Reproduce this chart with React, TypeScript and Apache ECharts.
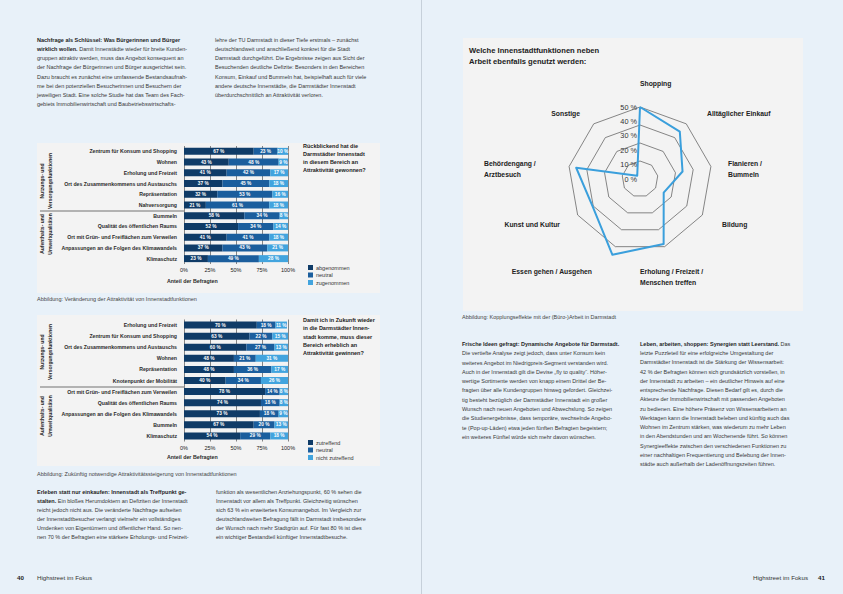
import React, { useEffect, useRef } from 'react';
import * as echarts from 'echarts';

const FONT = "'Liberation Sans', Arial, sans-serif";

// ---------- Chart 1: Rückblickend ----------
const cats1 = [
  'Zentrum für Konsum und Shopping',
  'Wohnen',
  'Erholung und Freizeit',
  'Ort des Zusammenkommens und Austauschs',
  'Repräsentation',
  'Nahversorgung',
  'Bummeln',
  'Qualität des öffentlichen Raums',
  'Ort mit Grün- und Freiflächen zum Verweilen',
  'Anpassungen an die Folgen des Klimawandels',
  'Klimaschutz',
];
const abgenommen = [67, 43, 41, 37, 32, 21, 58, 52, 41, 37, 23];
const neutral1 = [23, 48, 42, 45, 53, 61, 34, 34, 41, 43, 49];
const zugenommen = [10, 9, 17, 18, 16, 18, 8, 14, 18, 21, 28];

// ---------- Chart 2: Zukunft ----------
const cats2 = [
  'Erholung und Freizeit',
  'Zentrum für Konsum und Shopping',
  'Ort des Zusammenkommens und Austauschs',
  'Wohnen',
  'Repräsentation',
  'Knotenpunkt der Mobilität',
  'Ort mit Grün- und Freiflächen zum Verweilen',
  'Qualität des öffentlichen Raums',
  'Anpassungen an die Folgen des Klimawandels',
  'Bummeln',
  'Klimaschutz',
];
const zutreffend = [70, 63, 60, 48, 48, 40, 78, 74, 73, 67, 54];
const neutral2 = [18, 22, 27, 21, 36, 34, 14, 18, 18, 20, 29];
const nichtZutreffend = [11, 15, 13, 31, 17, 26, 8, 8, 9, 13, 18];

// ---------- Radar (clockwise from top) ----------
const radarNames = [
  'Shopping',
  'Alltäglicher Einkauf',
  'Flanieren /\nBummeln',
  'Bildung',
  'Erholung / Freizeit /\nMenschen treffen',
  'Essen gehen / Ausgehen',
  'Kunst und Kultur',
  'Behördengang /\nArztbesuch',
  'Sonstige',
];
const radarValues = [50, 43, 30, 19, 48, 56, 38, 45, 3];
const radarTicks = [0, 10, 20, 30, 40, 50];

// label layout for radar names (same order as radarNames)
const radarNameLayout = [
  { x: 640, y: 83, a: 'left' },
  { x: 707, y: 113, a: 'left' },
  { x: 728, y: 168.5, a: 'left' },
  { x: 722, y: 224, a: 'left' },
  { x: 640, y: 276.5, a: 'left' },
  { x: 592, y: 271, a: 'right' },
  { x: 560, y: 224, a: 'right' },
  { x: 484, y: 168.5, a: 'left' },
  { x: 580, y: 113, a: 'right' },
];

const C_DARK = '#0f3b67';
const C_MID = '#1b5e9d';
const C_LIGHT = '#42a4de';

// ---------- body texts ----------
const p1 = [
  '{b|Nachfrage als Schlüssel: Was Bürgerinnen und Bürger}',
  '{b|wirklich wollen.} Damit Innenstädte wieder für breite Kunden-',
  'gruppen attraktiv werden, muss das Angebot konsequent an',
  'der Nachfrage der Bürgerinnen und Bürger ausgerichtet sein.',
  'Dazu braucht es zunächst eine umfassende Bestandsaufnah-',
  'me bei den potenziellen Besucherinnen und Besuchern der',
  'jeweiligen Stadt. Eine solche Studie hat das Team des Fach-',
  'gebiets Immobilienwirtschaft und Baubetriebswirtschafts-',
];
const p2 = [
  'lehre der TU Darmstadt in dieser Tiefe erstmals – zunächst',
  'deutschlandweit und anschließend konkret für die Stadt',
  'Darmstadt durchgeführt. Die Ergebnisse zeigen aus Sicht der',
  'Besuchenden deutliche Defizite: Besonders in den Bereichen',
  'Konsum, Einkauf und Bummeln hat, beispielhaft auch für viele',
  'andere deutsche Innenstädte, die Darmstädter Innenstadt',
  'überdurchschnittlich an Attraktivität verloren.',
];
const p3 = [
  '{b|Erleben statt nur einkaufen: Innenstadt als Treffpunkt ge-}',
  '{b|stalten.} Ein bloßes Herumdoktern an Defiziten der Innenstadt',
  'reicht jedoch nicht aus. Die veränderte Nachfrage aufseiten',
  'der Innenstadtbesucher verlangt vielmehr ein vollständiges',
  'Umdenken von Eigentümern und öffentlicher Hand. So nen-',
  'nen 70 % der Befragten eine stärkere Erholungs- und Freizeit-',
];
const p4 = [
  'funktion als wesentlichen Anziehungspunkt, 60 % sehen die',
  'Innenstadt vor allem als Treffpunkt. Gleichzeitig wünschen',
  'sich 63 % ein erweitertes Konsumangebot. Im Vergleich zur',
  'deutschlandweiten Befragung fällt in Darmstadt insbesondere',
  'der Wunsch nach mehr Stadtgrün auf. Für fast 80 % ist dies',
  'ein wichtiger Bestandteil künftiger Innenstadtbesuche.',
];
const p5 = [
  '{b|Frische Ideen gefragt: Dynamische Angebote für Darmstadt.}',
  'Die vertiefte Analyse zeigt jedoch, dass unter Konsum kein',
  'weiteres Angebot im Niedrigpreis-Segment verstanden wird.',
  'Auch in der Innenstadt gilt die Devise „fly to quality“. Höher-',
  'wertige Sortimente werden von knapp einem Drittel der Be-',
  'fragten über alle Kundengruppen hinweg gefordert. Gleichzei-',
  'tig besteht bezüglich der Darmstädter Innenstadt ein großer',
  'Wunsch nach neuen Angeboten und Abwechslung. So zeigen',
  'die Studienergebnisse, dass temporäre, wechselnde Angebo-',
  'te (Pop-up-Läden) etwa jeden fünften Befragten begeistern;',
  'ein weiteres Fünftel würde sich mehr davon wünschen.',
];
const p6 = [
  '{b|Leben, arbeiten, shoppen: Synergien statt Leerstand.} Das',
  'letzte Puzzleteil für eine erfolgreiche Umgestaltung der',
  'Darmstädter Innenstadt ist die Stärkung der Wissensarbeit:',
  '42 % der Befragten können sich grundsätzlich vorstellen, in',
  'der Innenstadt zu arbeiten – ein deutlicher Hinweis auf eine',
  'entsprechende Nachfrage. Diesen Bedarf gilt es, durch die',
  'Akteure der Immobilienwirtschaft mit passenden Angeboten',
  'zu bedienen. Eine höhere Präsenz von Wissensarbeitern an',
  'Werktagen kann die Innenstadt beleben und künftig auch das',
  'Wohnen im Zentrum stärken, was wiederum zu mehr Leben',
  'in den Abendstunden und am Wochenende führt. So können',
  'Synergieeffekte zwischen den verschiedenen Funktionen zu',
  'einer nachhaltigen Frequentierung und Belebung der Innen-',
  'städte auch außerhalb der Ladenöffnungszeiten führen.',
];

function txt(x: number, y: number, text: string, o: any = {}) {
  const align = o.align || 'left';
  const va = o.va || 'middle';
  return {
    type: 'text',
    x,
    y,
    rotation: o.rotation || 0,
    z: 20,
    style: {
      text,
      fill: o.fill || '#2a2a2a',
      fontSize: o.size || 5.5,
      fontWeight: o.weight || 'normal',
      fontFamily: FONT,
      lineHeight: o.lh,
      textAlign: align,
      align,
      textVerticalAlign: va,
      verticalAlign: va,
    },
  };
}

function para(x: number, yFirst: number, lines: string[], lh: number) {
  return {
    type: 'text',
    x,
    y: yFirst - lh / 2,
    z: 20,
    style: {
      text: lines.join('\n'),
      fill: '#383838',
      fontSize: 5.5,
      fontFamily: FONT,
      lineHeight: lh,
      textAlign: 'left',
      align: 'left',
      textVerticalAlign: 'top',
      verticalAlign: 'top',
      rich: {
        b: { fontWeight: 'bold', fontSize: 5.5, fontFamily: FONT, fill: '#1e1e1e', lineHeight: lh },
      },
    },
  };
}

function rect(x: number, y: number, w: number, h: number, fill: string) {
  return { type: 'rect', z: 0, shape: { x, y, width: w, height: h }, style: { fill } };
}
function line(x1: number, y1: number, x2: number, y2: number, stroke: string, w = 0.8) {
  return { type: 'line', z: 5, shape: { x1, y1, x2, y2 }, style: { stroke, lineWidth: w } };
}

function barSeries(name: string, data: number[], color: string, idx: number, stack: string) {
  return {
    type: 'bar',
    name,
    data,
    stack,
    xAxisIndex: idx,
    yAxisIndex: idx,
    barWidth: 7,
    itemStyle: { color },
    label: {
      show: true,
      position: 'inside',
      formatter: '{c} %',
      color: '#ffffff',
      fontSize: 4.8,
      fontWeight: 'bold',
      fontFamily: FONT,
    },
  };
}

function xAx(idx: number) {
  return {
    type: 'value',
    gridIndex: idx,
    min: 0,
    max: 100,
    interval: 25,
    axisLine: { show: false },
    axisTick: { show: false },
    axisLabel: { formatter: '{value}%', fontSize: 5.5, color: '#222', margin: 3, fontFamily: FONT },
    splitLine: { show: true, lineStyle: { color: '#3a3a3a', width: 0.6 } },
  };
}
function yAx(idx: number, data: string[]) {
  return {
    type: 'category',
    gridIndex: idx,
    data,
    inverse: true,
    axisLine: { show: false },
    axisTick: { show: false },
    axisLabel: { fontSize: 5.2, fontWeight: 'bold', color: '#2b2b2b', margin: 7, fontFamily: FONT },
  };
}

// radar indicators run counter-clockwise in ECharts: reorder from clockwise reading order
const ccwOrder = [0, 8, 7, 6, 5, 4, 3, 2, 1];

// radar scale: rings every 12.5 % up to 50 %, extra (hidden) ring so values above 50 are not clipped
const R50 = 72;
const RADAR_MAX = 62.5;

export default function App() {
  const ref = useRef<HTMLDivElement>(null);
  useEffect(() => {
    const chart = echarts.init(ref.current!, null, { renderer: 'svg' });
    const graphic: any[] = [
      // fold
      line(421.5, 0, 421.5, 594, '#c6d0da', 1),
      // panels
      rect(37, 143, 343, 150, '#f3f3f3'),
      rect(37, 315, 343, 151, '#f3f3f3'),
      rect(463, 38, 340, 273, '#f3f3f3'),
      // separators
      line(40, 211, 184, 211, '#3a3a3a', 0.7),
      line(40, 387, 184, 387, '#3a3a3a', 0.7),
      // group labels
      txt(46, 181, 'Nutzungs- und\nVersorgungsfunktionen', { rotation: Math.PI / 2, align: 'center', size: 5, weight: 'bold', lh: 7.5 }),
      txt(46, 234, 'Aufenthalts- und\nUmweltqualitäten', { rotation: Math.PI / 2, align: 'center', size: 5, weight: 'bold', lh: 7.5 }),
      txt(46, 352, 'Nutzungs- und\nVersorgungsfunktionen', { rotation: Math.PI / 2, align: 'center', size: 5, weight: 'bold', lh: 7.5 }),
      txt(46, 416, 'Aufenthalts- und\nUmweltqualitäten', { rotation: Math.PI / 2, align: 'center', size: 5, weight: 'bold', lh: 7.5 }),
      // axis titles
      txt(167, 281, 'Anteil der Befragten', { size: 5.3, weight: 'bold' }),
      txt(167, 457, 'Anteil der Befragten', { size: 5.3, weight: 'bold' }),
      // questions
      txt(303, 142, 'Rückblickend hat die\nDarmstädter Innenstadt\nin diesem Bereich an\nAttraktivität gewonnen?', { size: 5.5, weight: 'bold', lh: 8.1, va: 'top', fill: '#222' }),
      txt(303, 316, 'Damit ich in Zukunft wieder\nin die Darmstädter Innen-\nstadt komme, muss dieser\nBereich erheblich an\nAttraktivität gewinnen?', { size: 5.5, weight: 'bold', lh: 8.3, va: 'top', fill: '#222' }),
      // captions
      txt(37, 298.5, 'Abbildung: Veränderung der Attraktivität von Innenstadtfunktionen', { size: 5.5, fill: '#444' }),
      txt(37, 473.5, 'Abbildung: Zukünftig notwendige Attraktivitätssteigerung von Innenstadtfunktionen', { size: 5.5, fill: '#444' }),
      txt(462, 317, 'Abbildung: Kopplungseffekte mit der (Büro-)Arbeit in Darmstadt', { size: 5.5, fill: '#444' }),
      // radar title
      txt(469, 44.5, 'Welche Innenstadtfunktionen neben\nArbeit ebenfalls genutzt werden:', { size: 7.6, weight: 'bold', lh: 11, fill: '#222', va: 'top' }),
      // body paragraphs
      para(37, 40, p1, 9.14),
      para(215, 40, p2, 9.14),
      para(37, 492, p3, 9.1),
      para(216, 492, p4, 9.1),
      para(462, 344, p5, 9.3),
      para(640, 344, p6, 9.23),
      // footers
      txt(17, 577, '40', { size: 6.2, weight: 'bold', fill: '#222' }),
      txt(37, 577, 'Highstreet im Fokus', { size: 6.2, fill: '#333' }),
      txt(808, 577, 'Highstreet im Fokus', { size: 6.2, fill: '#333', align: 'right' }),
      txt(818, 577, '41', { size: 6.2, weight: 'bold', fill: '#222' }),
    ];
    radarNames.forEach((n, i) => {
      const l = radarNameLayout[i];
      graphic.push(txt(l.x, l.y, n, { size: 6.8, weight: 'bold', fill: '#222', align: l.a, lh: 11 }));
    });

    const ringColor = '#555555';
    const option: any = {
      animation: false,
      backgroundColor: '#e8f1f9',
      textStyle: { fontFamily: FONT },
      graphic: { elements: graphic },
      grid: [
        { left: 184, top: 146, width: 104, height: 118 },
        { left: 184, top: 319.5, width: 104, height: 122 },
      ],
      xAxis: [xAx(0), xAx(1)],
      yAxis: [yAx(0, cats1), yAx(1, cats2)],
      legend: [
        {
          data: ['abgenommen', 'neutral', 'zugenommen'],
          orient: 'vertical', left: 303, top: 259.5, itemWidth: 5, itemHeight: 5, itemGap: 1.5,
          icon: 'rect', selectedMode: false,
          textStyle: { fontSize: 5.5, color: '#333', padding: [0, 0, 0, -2], fontFamily: FONT },
        },
        {
          data: ['zutreffend', 'neutral', 'nicht zutreffend'],
          orient: 'vertical', left: 303, top: 434.5, itemWidth: 5, itemHeight: 5, itemGap: 1.5,
          icon: 'rect', selectedMode: false,
          textStyle: { fontSize: 5.5, color: '#333', padding: [0, 0, 0, -2], fontFamily: FONT },
        },
      ],
      radar: {
        center: [640, 179],
        radius: (R50 * RADAR_MAX) / 50,
        startAngle: 90,
        splitNumber: 5,
        shape: 'polygon',
        indicator: ccwOrder.map((i) => ({ name: radarNames[i], min: 0, max: RADAR_MAX })),
        axisName: { show: false },
        axisLine: { show: false },
        axisTick: { show: false },
        axisLabel: { show: false },
        splitArea: { show: false },
        splitLine: {
          lineStyle: {
            color: [ringColor, ringColor, ringColor, ringColor, ringColor, 'rgba(0,0,0,0)'],
            width: 0.7,
          },
        },
      },
      polar: { center: [640, 179], radius: R50 },
      angleAxis: { type: 'value', min: 0, max: 360, startAngle: 90, show: false },
      radiusAxis: {
        type: 'value',
        min: radarTicks[0],
        max: radarTicks[radarTicks.length - 1],
        interval: 10,
        z: 10,
        axisLine: { show: false },
        axisTick: { show: false },
        splitLine: { show: false },
        axisLabel: { formatter: '{value} %', fontSize: 7.3, color: '#333', margin: 3, fontFamily: FONT },
      },
      series: [
        barSeries('abgenommen', abgenommen, C_DARK, 0, 's1'),
        barSeries('neutral', neutral1, C_MID, 0, 's1'),
        barSeries('zugenommen', zugenommen, C_LIGHT, 0, 's1'),
        barSeries('zutreffend', zutreffend, C_DARK, 1, 's2'),
        barSeries('neutral', neutral2, C_MID, 1, 's2'),
        barSeries('nicht zutreffend', nichtZutreffend, C_LIGHT, 1, 's2'),
        {
          type: 'radar',
          name: 'Nutzung',
          symbol: 'none',
          lineStyle: { color: '#3a9fdc', width: 2 },
          data: [{ value: ccwOrder.map((i) => radarValues[i]) }],
          z: 6,
        },
        { type: 'scatter', coordinateSystem: 'polar', data: [], silent: true },
      ],
    };
    chart.setOption(option);
    return () => chart.dispose();
  }, []);
  return <div ref={ref} style={{ position: 'fixed', left: 0, top: 0, width: 843, height: 594 }} />;
}
